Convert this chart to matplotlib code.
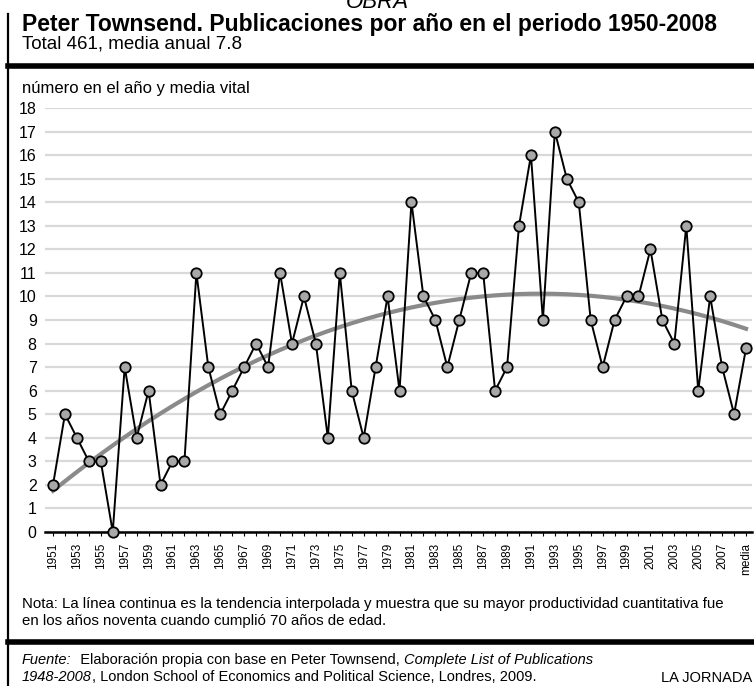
import numpy as np
import matplotlib
matplotlib.use("Agg")
import matplotlib.pyplot as plt

plt.rcParams['font.family'] = ['Liberation Sans', 'DejaVu Sans']

years = [str(y) for y in range(1951, 2009)] + ['media']
pubs = [2, 5, 4, 3, 3, 0, 7, 4, 6, 2,
        3, 3, 11, 7, 5, 6, 7, 8, 7, 11,
        8, 10, 8, 4, 11, 6, 4, 7, 10, 6,
        14, 10, 9, 7, 9, 11, 11, 6, 7, 13,
        16, 9, 17, 15, 14, 9, 7, 9, 10, 10,
        12, 9, 8, 13, 6, 10, 7, 5, 7.8]
yticks = list(range(0, 19))

W, H = 754, 686


def fx(x):
    return x / W


def fy(y):
    return 1 - y / H


fig = plt.figure(figsize=(W / 100, H / 100), dpi=100)
fig.patch.set_facecolor('white')

# header
fig.text(fx(377), fy(2), 'OBRA', fontsize=16, style='italic', ha='center', va='center')
fig.add_artist(plt.Line2D([fx(8), fx(8)], [fy(14), fy(686)], color='black', lw=1.6))
fig.text(fx(22), fy(24), 'Peter Townsend. Publicaciones por año en el periodo 1950-2008',
         fontsize=16.5, fontweight='bold', ha='left', va='center')
fig.text(fx(22), fy(44), 'Total 461, media anual 7.8', fontsize=13.5, ha='left', va='center')
fig.add_artist(plt.Line2D([fx(8), fx(754)], [fy(66), fy(66)], color='black', lw=4))
fig.text(fx(22), fy(88), 'número en el año y media vital', fontsize=12, ha='left', va='center')

# chart
x = np.arange(len(years))
ax = fig.add_axes([fx(45), fy(532), fx(752) - fx(45), fy(108) - fy(532)])
ax.set_xlim(-0.67, 58.5)
ax.set_ylim(0, 18)
ax.set_yticks(yticks)
ax.set_yticklabels([str(v) for v in yticks], fontsize=11.5)
ax.yaxis.grid(True, color='#d9d9d9', lw=1.6)
ax.set_axisbelow(True)
for s in ['top', 'right', 'left']:
    ax.spines[s].set_visible(False)
ax.spines['bottom'].set_linewidth(1.8)
ax.tick_params(axis='y', length=0, pad=6)
ax.set_xticks(x)
ax.set_xticklabels([lab if i % 2 == 0 else '' for i, lab in enumerate(years)],
                   rotation=90, fontsize=8.5)
ax.tick_params(axis='x', length=3, width=0.8, pad=5)

# trend line: quadratic fit of the yearly counts
coef = np.polyfit(x[:-1], pubs[:-1], 2)
ax.plot(x, np.polyval(coef, x), color='#8a8a8a', lw=3, zorder=2, clip_on=False)
ax.plot(x, pubs, color='black', lw=1.4, marker='o', markersize=7.5,
        markerfacecolor='#a8a8a8', markeredgecolor='black', markeredgewidth=1.3,
        zorder=3, clip_on=False)

# notes
fig.text(fx(22), fy(604), 'Nota: La línea continua es la tendencia interpolada y muestra que su mayor productividad cuantitativa fue',
         fontsize=10.8, ha='left', va='center')
fig.text(fx(22), fy(621), 'en los años noventa cuando cumplió 70 años de edad.',
         fontsize=10.8, ha='left', va='center')
fig.add_artist(plt.Line2D([fx(8), fx(754)], [fy(642), fy(642)], color='black', lw=4))

fig.canvas.draw()
renderer = fig.canvas.get_renderer()


def write_line(parts, x0, y0):
    xpos = x0
    for txt, st in parts:
        t = fig.text(fx(xpos), fy(y0), txt, fontsize=10.5, style=st, ha='left', va='center')
        xpos += t.get_window_extent(renderer).width


write_line([('Fuente:', 'italic'), ('  Elaboración propia con base en Peter Townsend, ', 'normal'),
            ('Complete List of Publications', 'italic')], 22, 660)
write_line([('1948-2008', 'italic'),
            (', London School of Economics and Political Science, Londres, 2009.', 'normal')], 22, 677)
fig.text(fx(752), fy(678), 'LA JORNADA', fontsize=10.5, ha='right', va='center')

fig.savefig('out.png', dpi=100, facecolor='white')
